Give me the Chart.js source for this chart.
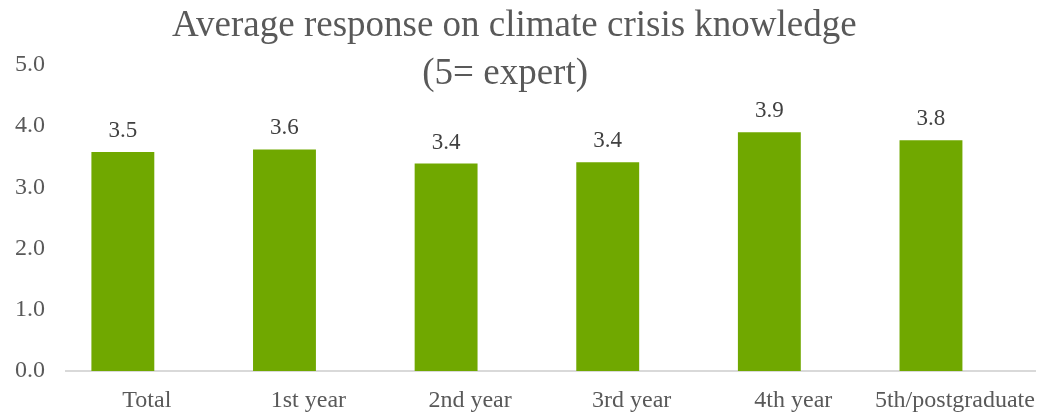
<!DOCTYPE html>
<html>
<head>
<meta charset="utf-8">
<script src="https://cdn.jsdelivr.net/npm/chart.js@4/dist/chart.umd.min.js"></script>
<style>
  html, body { margin: 0; padding: 0; background: #fff; }
  #wrap { width: 1051px; height: 412px; position: relative; }
</style>
</head>
<body>
<div id="wrap"><canvas id="knowledgeChart"></canvas></div>
<script>
// chart data
const categories = ["Total", "1st year", "2nd year", "3rd year", "4th year", "5th/postgraduate"];
const avgScores = [3.58, 3.62, 3.39, 3.41, 3.90, 3.77];
const scoreLabels = ["3.5", "3.6", "3.4", "3.4", "3.9", "3.8"];
const yTicks = [0, 1, 2, 3, 4, 5];

const serif = "'Times New Roman', 'Liberation Serif', serif";

// draws the value text above each bar of the first dataset
const valueLabels = {
    id: "valueLabels",
    afterDatasetsDraw(chart) {
        const ctx = chart.ctx;
        const meta = chart.getDatasetMeta(0);
        ctx.save();
        ctx.font = "23px " + serif;
        ctx.fillStyle = "#404040";
        ctx.textAlign = "center";
        ctx.textBaseline = "alphabetic";
        meta.data.forEach((bar, i) => {
            ctx.fillText(scoreLabels[i], bar.x, bar.y - 15);
        });
        ctx.restore();
    }
};

const ctx = document.getElementById("knowledgeChart");
new Chart(ctx, {
    type: "bar",
    data: {
        labels: categories,
        datasets: [{
            label: "Average",
            data: avgScores,
            backgroundColor: "#70A800",
            categoryPercentage: 0.593,
            barPercentage: 1.3125
        }, {
            // empty second series, as in the original workbook
            label: "",
            data: categories.map(() => null),
            backgroundColor: "#70A800",
            categoryPercentage: 0.593,
            barPercentage: 1.3125
        }]
    },
    options: {
        responsive: true,
        maintainAspectRatio: false,
        animation: false,
        layout: { padding: { left: 0, right: 13, top: 0, bottom: 0 } },
        plugins: {
            legend: { display: false },
            tooltip: { enabled: false },
            title: {
                display: true,
                text: ["Average response on climate crisis knowledge ", "(5= expert)   "],
                color: "#595959",
                font: { family: serif, size: 37, weight: "normal", lineHeight: 48 / 37 },
                padding: { top: 2, bottom: -33 }
            }
        },
        scales: {
            x: {
                grid: { display: false, drawTicks: false },
                border: { display: true, color: "#D9D9D9", width: 2 },
                ticks: {
                    color: "#595959",
                    font: { family: serif, size: 24 },
                    padding: 15,
                    maxRotation: 0,
                    autoSkip: false
                },
                afterFit(scale) { scale.height = 41; }
            },
            y: {
                min: 0,
                max: 5,
                grid: { display: false, drawTicks: false },
                border: { display: false },
                afterBuildTicks(scale) { scale.ticks = yTicks.map(v => ({ value: v })); },
                ticks: {
                    color: "#595959",
                    font: { family: serif, size: 24 },
                    padding: 21,
                    callback: v => Number(v).toFixed(1)
                },
                afterFit(scale) { scale.width = 66; }
            }
        }
    },
    plugins: [valueLabels]
});
</script>
</body>
</html>
